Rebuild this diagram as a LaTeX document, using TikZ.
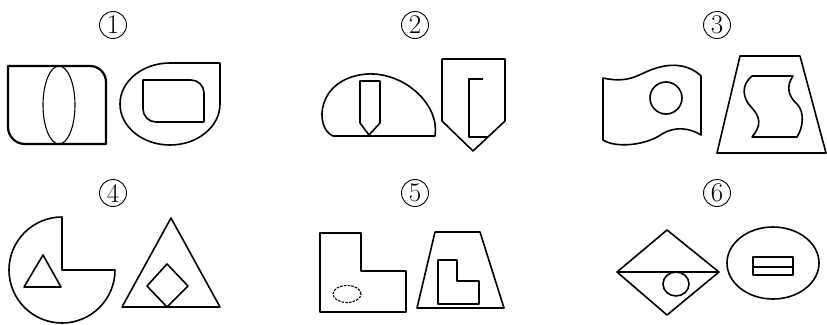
\documentclass[tikz,border=0pt]{standalone}
\usepackage{xcolor}
\begin{document}
\begin{tikzpicture}[
  x=1pt, y=1pt,
  outline/.style={line width=1.6pt, line join=round},
  heavyline/.style={line width=2.2pt, line join=round},
  thinline/.style={line width=1.1pt},
  numlabel/.style={circle, draw, line width=0.9pt, minimum size=27pt, inner sep=0pt, font=\fontsize{27}{27}\selectfont}
]
\useasboundingbox (0,0) rectangle (827,-324);
\node[numlabel] (lblone) at (113,-25) {1};
\node[numlabel] (lbltwo) at (415,-25) {2};
\node[numlabel] (lblthree) at (717,-25) {3};
\node[numlabel] (lblfour) at (113,-193) {4};
\node[numlabel] (lblfive) at (415,-193) {5};
\node[numlabel] (lblsix) at (717,-193) {6};
% 1
\draw[heavyline] (8,-66) -- (90,-66) arc[start angle=90, end angle=0, radius=16] -- (106,-144) -- (25,-144) arc[start angle=270, end angle=180, radius=17] -- cycle;
\draw[thinline] (59,-105) ellipse[x radius=16, y radius=39];
\draw[outline] (220,-104) arc[start angle=0, end angle=-270, x radius=50, y radius=41] -- (220,-63) -- cycle;
\draw[outline] (143,-80) -- (191,-80) arc[start angle=90, end angle=0, radius=13] -- (204,-122) -- (156,-122) arc[start angle=270, end angle=180, radius=13] -- cycle;
% 2
\draw[outline] (333,-136) .. controls (314,-128) and (316,-78) .. (367,-74) .. controls (405,-72) and (440,-105) .. (435,-136) -- cycle;
\draw[outline] (360,-81) -- (380,-81) -- (380,-123) -- (369,-135) -- (360,-123) -- cycle;
\draw[outline] (442,-59) -- (505,-59) -- (505,-121) -- (473,-151) -- (442,-121) -- cycle;
\draw[outline] (483,-79) -- (469,-79) -- (469,-137) -- (488,-137);
% 3
\draw[outline] (603,-78) .. controls (635,-85) and (640,-70) .. (665,-66) .. controls (683,-63) and (695,-70) .. (701,-76) -- (701,-135) .. controls (690,-128) and (675,-126) .. (662,-134) .. controls (645,-146) and (615,-148) .. (603,-140) -- cycle;
\draw[outline] (666,-98) circle[radius=16];
\draw[outline] (740,-56) -- (800,-56) -- (826,-153) -- (717,-153) -- cycle;
\draw[outline] (752,-76) -- (793,-76) .. controls (786,-86) and (788,-96) .. (797,-104) .. controls (805,-112) and (803,-128) .. (797,-137) -- (752,-137) .. controls (762,-125) and (760,-117) .. (752,-108) .. controls (742,-98) and (741,-85) .. (752,-76) -- cycle;
% 4
\draw[outline] (62,-270) -- (115,-270) arc[start angle=0, end angle=-270, radius=53] -- cycle;
\draw[outline] (43,-255) -- (61,-287) -- (24,-287) -- cycle;
\draw[outline] (171,-218) -- (220,-307) -- (122,-307) -- cycle;
\draw[outline] (167,-264) -- (188,-286) -- (167,-307) -- (147,-286) -- cycle;
% 5
\draw[heavyline] (320,-233) -- (361,-233) -- (361,-271) -- (406,-271) -- (406,-312) -- (320,-312) -- cycle;
\draw[thinline, dash pattern=on 2.5pt off 1.2pt] (347,-294) ellipse[x radius=14, y radius=8.5];
\draw[outline] (435,-232) -- (480,-232) -- (504,-308) -- (417,-308) -- cycle;
\draw[outline] (438,-260) -- (457,-260) -- (457,-281) -- (479,-281) -- (479,-304) -- (438,-304) -- cycle;
% 6
\draw[outline] (667,-230) -- (719,-272) -- (667,-315) -- (617,-272) -- cycle;
\draw[outline] (617,-272) -- (719,-272);
\draw[outline] (676,-284) ellipse[x radius=13, y radius=12];
\draw[outline] (773,-263) ellipse[x radius=46, y radius=36];
\draw[outline] (753,-257) rectangle (793,-267);
\draw[outline] (753,-267) rectangle (793,-275);
\end{tikzpicture}
\end{document}
